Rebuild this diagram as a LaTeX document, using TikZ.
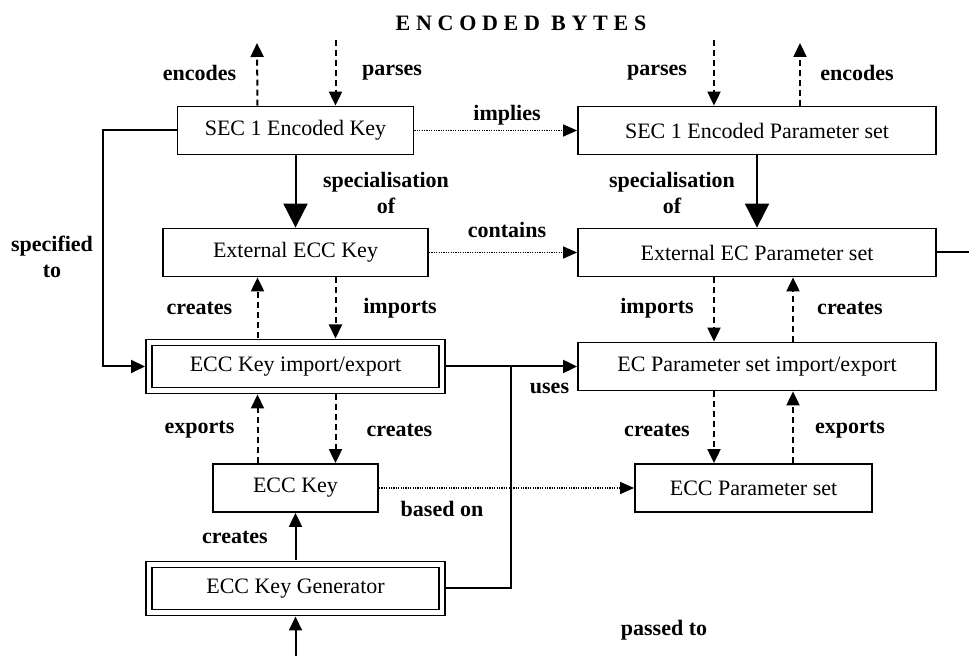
\documentclass[tikz,border=0pt]{standalone}
\usepackage{fontspec}
\setmainfont{Liberation Serif}
\newfontfamily\spacedfont[LetterSpace=26]{Liberation Serif}
\usetikzlibrary{arrows.meta}

\begin{document}
\begin{tikzpicture}[x=0.5pt,y=-0.5pt,
    box/.style={draw,line width=0.9pt,minimum height=24pt,inner sep=0pt,font=\fontsize{11}{13}\selectfont},
    dbox/.style={box,double,double distance=2.1pt,outer sep=2pt},
    lbl/.style={font=\fontsize{11}{13}\selectfont\bfseries,align=center,inner sep=0pt},
    conn/.style={line width=1pt,-{Triangle[length=7pt,width=6.5pt]}},
    dashconn/.style={conn,dash pattern=on 3pt off 2pt},
    dotconn/.style={line width=0.7pt,dash pattern=on 0.6pt off 0.6pt,-{Triangle[length=7pt,width=6pt]}},
    spec/.style={line width=1pt,-{Triangle[length=12pt,width=12pt]}}]
    \useasboundingbox (0,0) rectangle (969,656);
    \node[font=\fontsize{11}{13}\spacedfont\bfseries] (title) at (521,23) {ENCODED BYTES};

    \node[box,minimum width=118pt] (seckey) at (295.5,130.5) {SEC 1 Encoded Key};
    \node[box,minimum width=179pt] (secpar) at (757,130.5) {SEC 1 Encoded Parameter set};
    \node[box,minimum width=132.5pt] (extkey) at (295.5,252.5) {External ECC Key};
    \node[box,minimum width=179pt] (extpar) at (757,252.5) {External EC Parameter set};
    \node[dbox,minimum width=146.5pt] (keyio) at (295.5,366.5) {ECC Key import/export};
    \node[box,minimum width=179pt] (pario) at (757,366.5) {EC Parameter set import/export};
    \node[box,minimum width=82.5pt] (key) at (295.5,488) {ECC Key};
    \node[box,minimum width=118.5pt] (par) at (753.5,488) {ECC Parameter set};
    \node[dbox,minimum width=146.5pt] (keygen) at (295.5,588.5) {ECC Key Generator};

    \coordinate (encout1) at (257,43);
    \coordinate (parsin1) at (335.5,40);
    \coordinate (parsin2) at (714,40);
    \coordinate (encout2) at (800,43);
    \coordinate (joint) at (511,366.5);
    \coordinate (extout) at (969,252.5);
    \coordinate (genin) at (295.5,656);

    \draw[dashconn] ([xshift=-19pt]seckey.north) -- (encout1);
    \draw[dashconn] (parsin1) -- ([xshift=20pt]seckey.north);
    \draw[dashconn] (parsin2) -- ([xshift=-21.5pt]secpar.north);
    \draw[dashconn] ([xshift=21.5pt]secpar.north) -- (encout2);

    \draw[spec] (seckey) -- (extkey);
    \draw[spec] (secpar) -- (extpar);

    \draw[dashconn] ([xshift=-19pt]keyio.north) -- ([xshift=-19pt]extkey.south);
    \draw[dashconn] ([xshift=20pt]extkey.south) -- ([xshift=20pt]keyio.north);
    \draw[dashconn] ([xshift=-19pt]key.north) -- ([xshift=-19pt]keyio.south);
    \draw[dashconn] ([xshift=20pt]keyio.south) -- ([xshift=20pt]key.north);

    \draw[dashconn] ([xshift=-21.5pt]extpar.south) -- ([xshift=-21.5pt]pario.north);
    \draw[dashconn] ([xshift=18pt]pario.north) -- ([xshift=18pt]extpar.south);
    \draw[dashconn] ([xshift=-19.75pt]par.north |- pario.south) -- ([xshift=-19.75pt]par.north);
    \draw[dashconn] ([xshift=19.75pt]par.north) -- ([xshift=19.75pt]par.north |- pario.south);

    \draw[dotconn] (seckey) -- (secpar);
    \draw[dotconn] (extkey) -- (extpar);
    \draw[dotconn] (key) -- (par);

    \draw[conn] (seckey.west) -- ++(-74,0) |- (keyio.west);
    \draw[conn] (keyio.east) -- (pario.west);
    \draw[line width=1pt] (keygen.east) -| (joint);
    \draw[line width=1pt] (extpar.east) -- (extout);
    \draw[conn] (keygen) -- (key);
    \draw[conn] (genin) -- (keygen);

    \node[lbl] (l-enc1) at (199.5,73) {encodes};
    \node[lbl] (l-pars1) at (392,73) {parses};
    \node[lbl] (l-pars2) at (657,73) {parses};
    \node[lbl] (l-enc2) at (857,73) {encodes};
    \node[lbl] (l-impl) at (507,115) {implies};
    \node[lbl] (l-spec1) at (386,193) {specialisation\\of};
    \node[lbl] (l-spec2) at (672,193) {specialisation\\of};
    \node[lbl] (l-sto) at (52,257) {specified\\to};
    \node[lbl] (l-cont) at (507,230) {contains};
    \node[lbl] (l-cre1) at (199.5,308) {creates};
    \node[lbl] (l-imp1) at (400,308) {imports};
    \node[lbl] (l-imp2) at (657,308) {imports};
    \node[lbl] (l-cre2) at (850,308) {creates};
    \node[lbl] (l-uses) at (549.5,388) {uses};
    \node[lbl] (l-exp1) at (199.5,430) {exports};
    \node[lbl] (l-cre3) at (399.5,430) {creates};
    \node[lbl] (l-cre4) at (657,430) {creates};
    \node[lbl] (l-exp2) at (850,430) {exports};
    \node[lbl] (l-based) at (442,509) {based on};
    \node[lbl] (l-cre5) at (235,537) {creates};
    \node[lbl] (l-pass) at (664,630) {passed to};
\end{tikzpicture}
\end{document}
